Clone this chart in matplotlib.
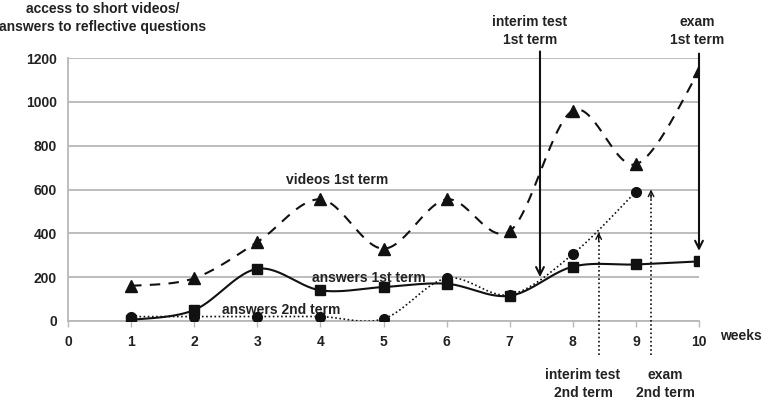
import numpy as np
import matplotlib
matplotlib.use("Agg")
import matplotlib.pyplot as plt

plt.rcParams['font.family'] = ['Liberation Sans', 'DejaVu Sans']
plt.rcParams['font.weight'] = 'bold'

weeks = [1, 2, 3, 4, 5, 6, 7, 8, 9, 10]
videos_1st = [160, 195, 360, 555, 330, 555, 410, 960, 715, 1140]
answers_1st = [5, 50, 238, 140, 155, 170, 115, 248, 258, 272]
weeks_2nd = [1, 2, 3, 4, 5, 6, 7, 8, 9]
answers_2nd = [20, 20, 20, 20, 10, 195, 120, 305, 590]

GRAY = '#b8b8b8'
TXT = '#222222'


def smooth(x, y, n=30):
    # Excel-like smoothed line (Catmull-Rom as cubic Bezier)
    pts = np.column_stack([x, y]).astype(float)
    P = np.vstack([pts[0], pts, pts[-1]])
    t = np.linspace(0, 1, n)[:, None]
    out = []
    for i in range(1, len(P) - 2):
        p0, p1, p2, p3 = P[i - 1], P[i], P[i + 1], P[i + 2]
        c1 = p1 + (p2 - p0) / 6
        c2 = p2 - (p3 - p1) / 6
        seg = (1 - t) ** 3 * p1 + 3 * (1 - t) ** 2 * t * c1 + 3 * (1 - t) * t ** 2 * c2 + t ** 3 * p2
        out.append(seg)
    s = np.vstack(out)
    return s[:, 0], s[:, 1]


fig = plt.figure(figsize=(7.62, 4.01), dpi=100)
ax = fig.add_axes([68 / 762, 1 - 321 / 401, 631 / 762, 263 / 401])
ax.set_xlim(0, 10)
ax.set_ylim(0, 1200)

for v in range(0, 1201, 200):
    ax.axhline(v, color=GRAY, lw=1.3, zorder=0)

for s in ['top', 'right']:
    ax.spines[s].set_visible(False)
ax.spines['left'].set_color(GRAY)
ax.spines['bottom'].set_color(GRAY)
ax.spines['left'].set_linewidth(1.3)
ax.spines['bottom'].set_linewidth(1.3)
ax.set_xticks(range(0, 11))
ax.set_yticks(range(0, 1201, 200))
ax.tick_params(axis='x', colors=GRAY, length=4, width=1, labelcolor=TXT, labelsize=10, pad=6)
ax.tick_params(axis='y', length=0, labelcolor=TXT, labelsize=10, pad=8)
for lab in ax.get_xticklabels() + ax.get_yticklabels():
    lab.set_fontweight('bold')

# series
sx, sy = smooth(weeks, videos_1st)
ax.plot(sx, sy, color='#111111', lw=1.5, ls=(0, (5, 4)), zorder=3)
ax.plot(weeks, videos_1st, ls='none', marker='^', ms=9, color='#111111', zorder=4)

sx, sy = smooth(weeks, answers_1st)
ax.plot(sx, sy, color='#111111', lw=1.5, zorder=3)
ax.plot(weeks, answers_1st, ls='none', marker='s', ms=7, color='#111111', zorder=4)

sx, sy = smooth(weeks_2nd, answers_2nd)
ax.plot(sx, sy, color='#111111', lw=1.2, ls=(0, (1, 1.5)), zorder=3)
ax.plot(weeks_2nd, answers_2nd, ls='none', marker='o', ms=7, color='#111111', zorder=4)

# event arrows, 1st term (solid)
arr = dict(arrowstyle='->', color='#111111', lw=1.5, mutation_scale=14, shrinkA=0, shrinkB=0)
ax.annotate('', xy=(7.48, 200), xytext=(7.48, 1230), arrowprops=arr, annotation_clip=False, zorder=5)
ax.annotate('', xy=(10.0, 320), xytext=(10.0, 1220), arrowprops=arr, annotation_clip=False, zorder=5)

# event arrows, 2nd term (dotted line, open head)
for xe, ytop in [(8.41, 405), (9.24, 600)]:
    ax.plot([xe, xe], [-155, ytop], color='#111111', lw=1.2, ls=(0, (1, 1.5)), clip_on=False, zorder=5)
    ax.annotate('', xy=(xe, ytop), xytext=(xe, ytop - 40),
                arrowprops=dict(arrowstyle='->', color='#111111', lw=1.0, mutation_scale=10,
                                shrinkA=0, shrinkB=0),
                annotation_clip=False, zorder=5)

fs = 10
ax.text(4.26, 643, 'videos 1st term', ha='center', va='center', fontsize=fs, color=TXT)
ax.text(4.77, 196, 'answers 1st term', ha='center', va='center', fontsize=fs, color=TXT)
ax.text(3.38, 50, 'answers 2nd term', ha='center', va='center', fontsize=fs, color=TXT)

fig.text(103 / 762, 1 - 18 / 401, 'access to short videos/\nanswers to reflective questions',
         ha='center', va='center', fontsize=fs, color=TXT, linespacing=1.3)
fig.text(530 / 762, 1 - 31 / 401, 'interim test\n1st term', ha='center', va='center',
         fontsize=fs, color=TXT, linespacing=1.3)
fig.text(697 / 762, 1 - 31 / 401, 'exam\n1st term', ha='center', va='center',
         fontsize=fs, color=TXT, linespacing=1.3)
fig.text(583 / 762, 1 - 384 / 401, 'interim test\n2nd term', ha='center', va='center',
         fontsize=fs, color=TXT, linespacing=1.3)
fig.text(665 / 762, 1 - 384 / 401, 'exam\n2nd term', ha='center', va='center',
         fontsize=fs, color=TXT, linespacing=1.3)
fig.text(741 / 762, 1 - 336 / 401, 'weeks', ha='center', va='center', fontsize=fs, color=TXT)

fig.savefig('out.png', dpi=100, facecolor='white')
